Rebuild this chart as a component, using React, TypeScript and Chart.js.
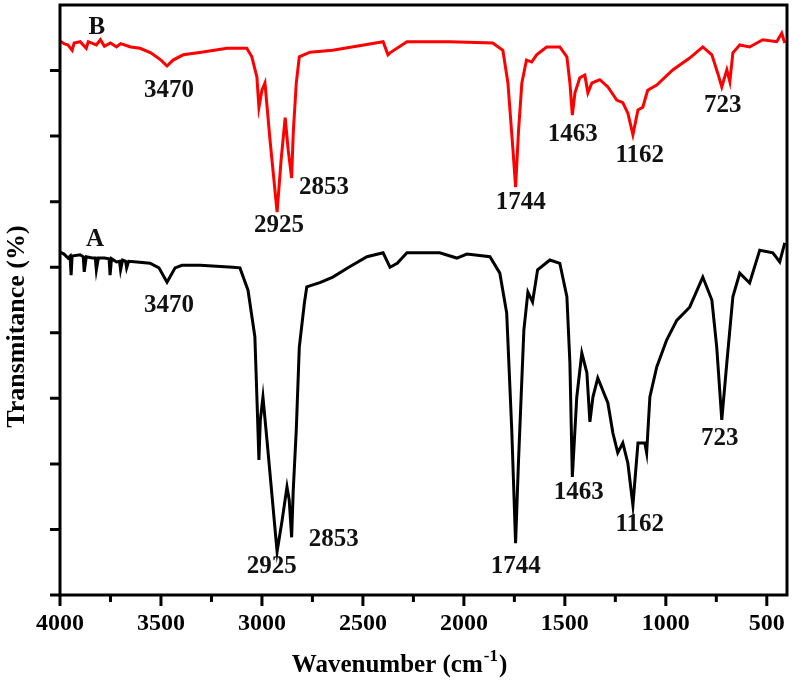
import React, { useEffect, useRef } from "react";
import { Chart, registerables } from "chart.js";

Chart.register(...registerables);

// ---- Data (wavenumber in cm-1, transmittance in arbitrary % units) ----
const waveB = [4000,3980,3960,3940,3930,3900,3870,3860,3820,3800,3780,3750,3720,3700,3650,3604,3550,3500,3470,3440,3390,3300,3173,3075,3050,3025,3015,3000,2985,2960,2925,2905,2885,2870,2853,2845,2830,2815,2762,2650,2400,2376,2366,2282,2070,1857,1807,1782,1757,1744,1730,1713,1690,1664,1640,1590,1525,1490,1475,1463,1450,1426,1401,1386,1366,1327,1287,1243,1213,1188,1163,1138,1114,1090,1045,966,882,817,772,743,723,698,683,668,634,585,520,451,426,411];
const transB = [84.5,84.1,83.9,83.1,84.2,84.4,83.4,84.4,83.9,84.7,83.7,84.2,83.6,84.1,83.6,83.4,82.7,81.6,80.7,81.6,82.4,82.8,83.4,83.4,82.1,79.0,74.4,77.0,78.1,69.4,58.4,66.4,72.8,67.9,63.6,70.5,78.1,82.1,82.8,83.1,84.4,82.4,82.7,84.4,84.4,84.2,83.1,78.1,67.9,62.2,70.5,78.1,81.6,81.3,82.4,83.6,83.6,82.1,78.1,73.2,76.6,78.9,79.3,76.6,78.1,78.6,77.5,75.5,75.1,73.5,70.2,74.0,74.4,77.0,77.8,80.1,81.9,83.6,82.4,79.6,77.5,80.1,78.3,82.7,83.9,83.6,84.7,84.4,85.7,84.2];

const waveA = [4000,3980,3960,3950,3945,3940,3900,3885,3880,3870,3840,3825,3820,3810,3780,3757,3752,3745,3720,3705,3700,3690,3675,3670,3660,3620,3554,3510,3490,3470,3450,3430,3396,3306,3144,3109,3069,3035,3025,3015,3008,2995,2975,2925,2900,2876,2865,2853,2845,2830,2815,2790,2778,2710,2649,2570,2480,2400,2366,2330,2282,2120,2035,1985,1871,1822,1788,1763,1744,1730,1703,1683,1660,1635,1574,1525,1490,1475,1463,1441,1416,1391,1376,1361,1337,1287,1262,1238,1213,1188,1163,1138,1104,1095,1079,1045,996,946,882,817,772,748,723,698,668,634,585,535,470,436,411];
const transA = [52.3,52.0,51.4,51.7,48.8,51.7,51.9,51.6,49.3,51.6,51.4,51.4,49.6,51.4,51.4,51.3,48.8,51.3,50.8,50.9,49.6,51.1,50.9,49.9,50.9,50.8,50.6,49.9,48.8,47.7,48.8,49.9,50.3,50.3,50.0,49.9,46.5,39.4,30.2,20.6,26.7,30.2,23.6,6.6,11.4,16.5,14.5,8.8,16.0,25.2,37.8,44.5,47.0,47.7,48.5,50.0,51.6,52.2,50.0,50.6,52.2,52.2,51.4,52.0,51.6,49.1,43.0,25.2,7.9,20.1,40.4,46.2,44.7,49.6,51.1,50.6,45.5,35.4,18.0,30.2,36.9,33.9,26.4,30.2,33.1,29.3,24.7,21.7,23.2,20.1,13.7,23.2,23.2,21.7,30.2,34.8,38.9,41.9,43.9,48.5,45.0,37.8,26.7,35.4,45.5,49.1,47.6,52.6,52.2,50.8,53.7];

const xTickValues = [4000, 3500, 3000, 2500, 2000, 1500, 1000, 500];
const xMinorTickValues = [3750, 3250, 2750, 2250, 1750, 1250, 750];
const yTickValues = [0, 10, 20, 30, 40, 50, 60, 70, 80];

// peak labels: text, anchor wavenumber, anchor transmittance
const labelTextsB = ["B", "3470", "2925", "2853", "1744", "1463", "1162", "723"];
const labelWaveB = [3817, 3460, 2916, 2693, 1718, 1461, 1129, 718];
const labelTransB = [86.6, 77.0, 56.3, 62.2, 59.9, 70.3, 67.1, 74.6];
const labelTextsA = ["A", "3470", "2925", "2853", "1744", "1463", "1162", "723"];
const labelWaveA = [3827, 3460, 2951, 2644, 1743, 1431, 1129, 733];
const labelTransA = [54.2, 44.2, 4.4, 8.4, 4.3, 15.6, 10.7, 23.9];

const FONT = "'Liberation Serif', 'Times New Roman', serif";

const framePlugin = {
  id: "frameAndDecor",
  afterDraw(chart: any) {
    const { ctx, chartArea } = chart;
    const xs = chart.scales.x;
    const ys = chart.scales.y;
    const { left, right, top, bottom } = chartArea;
    ctx.save();
    ctx.strokeStyle = "#000";
    ctx.lineWidth = 3;
    ctx.lineCap = "butt";
    // frame
    ctx.strokeRect(left, top, right - left, bottom - top);
    // x ticks
    ctx.beginPath();
    xTickValues.forEach((v) => {
      const px = xs.getPixelForValue(v);
      ctx.moveTo(px, bottom);
      ctx.lineTo(px, bottom + 11);
    });
    xMinorTickValues.forEach((v) => {
      const px = xs.getPixelForValue(v);
      ctx.moveTo(px, bottom);
      ctx.lineTo(px, bottom + 7);
    });
    // y ticks
    yTickValues.forEach((v) => {
      const py = ys.getPixelForValue(v);
      ctx.moveTo(left, py);
      ctx.lineTo(left - 10, py);
    });
    ctx.stroke();

    // peak labels
    ctx.fillStyle = "#111";
    ctx.textAlign = "center";
    ctx.textBaseline = "middle";
    ctx.font = `bold 25px ${FONT}`;
    const drawLabels = (texts: string[], waves: number[], trans: number[]) => {
      texts.forEach((t, i) => {
        ctx.fillText(t, xs.getPixelForValue(waves[i]), ys.getPixelForValue(trans[i]));
      });
    };
    drawLabels(labelTextsB, labelWaveB, labelTransB);
    drawLabels(labelTextsA, labelWaveA, labelTransA);

    // x title with superscript
    ctx.fillStyle = "#000";
    ctx.textAlign = "left";
    ctx.textBaseline = "alphabetic";
    const main = "Wavenumber (cm";
    ctx.font = `bold 25px ${FONT}`;
    const wMain = ctx.measureText(main).width;
    ctx.font = `bold 17px ${FONT}`;
    const wSup = ctx.measureText("-1").width;
    ctx.font = `bold 25px ${FONT}`;
    const wParen = ctx.measureText(")").width;
    const total = wMain + wSup + wParen + 2;
    const cx = left + (right - left) * 0.467;
    let x0 = cx - total / 2;
    const base = bottom + 77;
    ctx.fillText(main, x0, base);
    x0 += wMain + 1;
    ctx.font = `bold 17px ${FONT}`;
    ctx.fillText("-1", x0, base - 11);
    x0 += wSup + 1;
    ctx.font = `bold 25px ${FONT}`;
    ctx.fillText(")", x0, base);

    // y title
    ctx.save();
    ctx.translate(24, top + (bottom - top) * 0.545);
    ctx.rotate(-Math.PI / 2);
    ctx.textAlign = "center";
    ctx.textBaseline = "alphabetic";
    ctx.font = `bold 26px ${FONT}`;
    ctx.fillText("Transmitance (%)", 0, 0);
    ctx.restore();

    ctx.restore();
  },
};

export default function App() {
  const canvasRef = useRef<HTMLCanvasElement | null>(null);

  useEffect(() => {
    document.body.style.margin = "0";
    const canvas = canvasRef.current;
    if (!canvas) return;
    const chart = new Chart(canvas, {
      type: "line",
      data: {
        datasets: [
          {
            label: "B",
            data: waveB.map((w, i) => ({ x: w, y: transB[i] })),
            borderColor: "#ff0000",
            borderWidth: 3,
            pointRadius: 0,
            tension: 0,
            fill: false,
          },
          {
            label: "A",
            data: waveA.map((w, i) => ({ x: w, y: transA[i] })),
            borderColor: "#000000",
            borderWidth: 3,
            pointRadius: 0,
            tension: 0,
            fill: false,
          },
        ],
      },
      options: {
        responsive: false,
        animation: false,
        events: [],
        layout: { padding: { top: 5, right: 5, left: 0, bottom: 0 } },
        plugins: {
          legend: { display: false },
          tooltip: { enabled: false },
          title: { display: false },
        },
        scales: {
          x: {
            type: "linear",
            reverse: true,
            min: 400,
            max: 4000,
            afterBuildTicks: (scale: any) => {
              scale.ticks = xTickValues.map((v) => ({ value: v }));
            },
            afterFit: (scale: any) => {
              scale.height = 87;
              scale.paddingLeft = 0;
              scale.paddingRight = 0;
            },
            grid: { display: false, drawTicks: false },
            border: { display: false },
            ticks: {
              autoSkip: false,
              maxRotation: 0,
              padding: 14,
              color: "#000",
              font: { family: FONT, size: 24, weight: "bold" },
              callback: (v: any) => String(v),
            },
          },
          y: {
            type: "linear",
            min: 0,
            max: 90,
            afterFit: (scale: any) => {
              scale.width = 60;
              scale.paddingTop = 0;
              scale.paddingBottom = 0;
            },
            grid: { display: false, drawTicks: false },
            border: { display: false },
            ticks: { display: false },
          },
        },
      },
      plugins: [framePlugin],
    } as any);
    return () => chart.destroy();
  }, []);

  return (
    <div style={{ width: 792, height: 682, background: "#fff" }}>
      <canvas ref={canvasRef} width={792} height={682} />
    </div>
  );
}
